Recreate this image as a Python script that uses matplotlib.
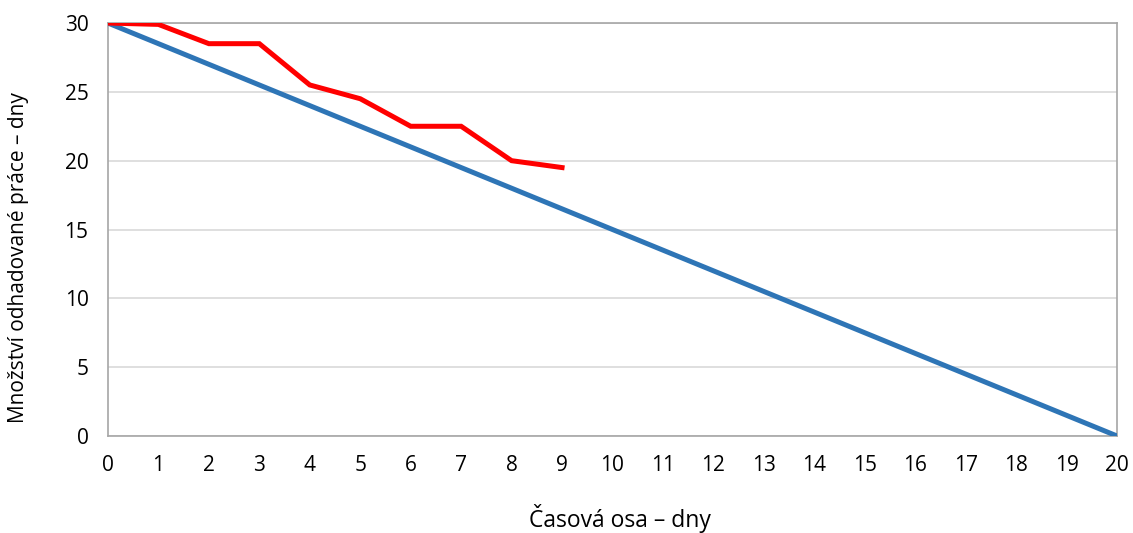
import matplotlib
matplotlib.use('Agg')
import matplotlib.pyplot as plt

# burndown: ideal vs actual remaining work
days = list(range(0, 21))
ideal = [30 - 1.5 * d for d in days]
actual_days = [0, 1, 2, 3, 4, 5, 6, 7, 8, 9]
actual = [30, 29.9, 28.5, 28.5, 25.5, 24.5, 22.5, 22.5, 20, 19.5]
y_ticks = [0, 5, 10, 15, 20, 25, 30]

plt.rcParams['font.family'] = ['Open Sans', 'DejaVu Sans']

fig = plt.figure(figsize=(11.33, 5.33), dpi=100)
ax = fig.add_axes([0.0953, 0.182, 0.8906, 0.7748])

ax.plot(days, ideal, color="#2E75B6", linewidth=3.6, solid_capstyle="butt", zorder=3)
ax.plot(actual_days, actual, color="#FF0000", linewidth=3.6, solid_joinstyle="miter", zorder=4)

ax.set_xlim(0, 20)
ax.set_ylim(0, 30)
ax.set_xticks(days)
ax.set_yticks(y_ticks)
ax.tick_params(length=0, labelsize=15, colors="black")
ax.tick_params(axis="x", pad=14)
ax.tick_params(axis="y", pad=14)
ax.yaxis.grid(True, color="#d9d9d9", linewidth=1.2)
ax.set_axisbelow(True)

for spine in ax.spines.values():
    spine.set_color("#a6a6a6")
    spine.set_linewidth(1.2)

ax.set_xlabel("Časová osa – dny", fontsize=16.5, labelpad=20)
ax.set_ylabel("Množství odhadované práce – dny", fontsize=15)
ax.yaxis.set_label_coords(-0.078, 0.433)
ax.xaxis.label.set_x(0.507)

plt.savefig("out.png", dpi=100, facecolor="white")
